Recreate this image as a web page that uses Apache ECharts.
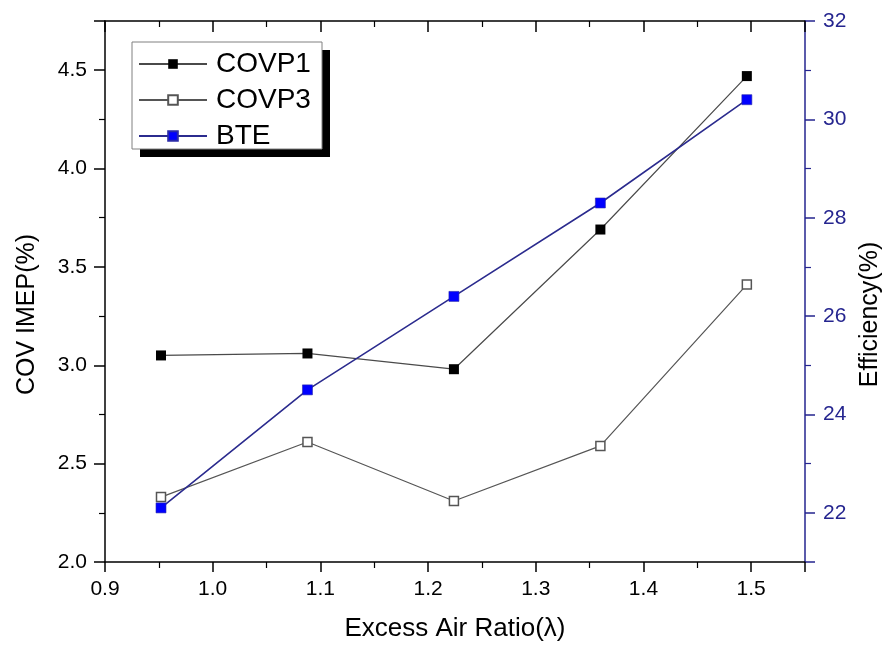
<!DOCTYPE html>
<html>

<head>
    <meta charset="UTF-8">
    <title>COV IMEP / BTE vs Excess Air Ratio</title>
    <style>
        html, body {
            margin: 0;
            padding: 0;
            background: #fff;
        }
        #main {
            width: 890px;
            height: 647px;
        }
    </style>
    <script src="https://cdn.jsdelivr.net/npm/echarts@6.0.0/dist/echarts.min.js"></script>
</head>

<body>
    <div id="main"></div>
    <script type="text/javascript">
        // 数据
        var lambda = [0.952, 1.088, 1.224, 1.360, 1.496];
        var covp1 = [3.05, 3.06, 2.98, 3.69, 4.47];
        var covp3 = [2.33, 2.61, 2.31, 2.59, 3.41];
        var bte = [22.1, 24.5, 26.4, 28.3, 30.4];
        var seriesNames = ['COVP1', 'COVP3', 'BTE'];

        var FONT = 'Liberation Sans';
        var NAVY = '#25258f';

        function pairs(xs, ys) {
            return xs.map(function (x, i) { return [x, ys[i]]; });
        }

        var myChart = echarts.init(document.getElementById('main'), null, { renderer: 'canvas' });

        var option = {
            backgroundColor: '#fff',
            animation: false,
            textStyle: { fontFamily: FONT },
            grid: {
                left: 105,
                right: 85,
                top: 21,
                bottom: 85,
                outerBoundsMode: 'none'
            },
            // 图例外框和阴影
            graphic: [{
                    type: 'rect',
                    z: 1,
                    shape: { x: 140, y: 50, width: 190, height: 107 },
                    style: { fill: '#000' }
                },
                {
                    type: 'rect',
                    z: 1,
                    shape: { x: 132, y: 42, width: 190, height: 107 },
                    style: { fill: '#fff', stroke: '#808080', lineWidth: 1 }
                }
            ],
            legend: {
                data: seriesNames,
                orient: 'vertical',
                left: 133,
                top: 45,
                itemWidth: 68,
                itemHeight: 12,
                itemGap: 8,
                textStyle: { fontFamily: FONT, fontSize: 28, color: '#000', padding: [0, 0, 0, 4] }
            },
            xAxis: [{
                    type: 'value',
                    position: 'bottom',
                    min: 0.9,
                    max: 1.55,
                    interval: 0.1,
                    name: 'Excess Air Ratio(λ)',
                    nameLocation: 'middle',
                    nameGap: 54,
                    nameTextStyle: { fontFamily: FONT, fontSize: 26, color: '#000' },
                    axisLine: { show: true, onZero: false, lineStyle: { color: '#000', width: 1.5 } },
                    axisTick: { show: true, inside: false, length: 10, lineStyle: { color: '#000', width: 1.5 } },
                    minorTick: { show: true, splitNumber: 2, length: 6, lineStyle: { color: '#000', width: 1.2 } },
                    axisLabel: {
                        show: true, margin: 17, fontFamily: FONT, fontSize: 21, color: '#000',
                        showMaxLabel: false,
                        formatter: function (v) { return v.toFixed(1); }
                    },
                    splitLine: { show: false }
                },
                {
                    type: 'value',
                    position: 'top',
                    min: 0.9,
                    max: 1.55,
                    interval: 0.1,
                    axisLine: { show: true, onZero: false, lineStyle: { color: '#000', width: 1.5 } },
                    axisTick: { show: true, inside: true, length: 11, lineStyle: { color: '#000', width: 1.5 } },
                    minorTick: { show: true, splitNumber: 2, length: 6, lineStyle: { color: '#000', width: 1.2 } },
                    axisLabel: { show: false },
                    splitLine: { show: false }
                }
            ],
            yAxis: [{
                    type: 'value',
                    position: 'left',
                    min: 2.0,
                    max: 4.75,
                    interval: 0.5,
                    name: 'COV IMEP(%)',
                    nameLocation: 'middle',
                    nameRotate: 90,
                    nameGap: 65,
                    nameTextStyle: { fontFamily: FONT, fontSize: 25, color: '#000', padding: [0, 46, 0, 0] },
                    axisLine: { show: true, onZero: false, lineStyle: { color: '#000', width: 1.5 } },
                    axisTick: { show: true, inside: false, length: 11, lineStyle: { color: '#000', width: 1.5 } },
                    minorTick: { show: true, splitNumber: 2, length: 6, lineStyle: { color: '#000', width: 1.2 } },
                    axisLabel: {
                        show: true, margin: 18, fontFamily: FONT, fontSize: 21, color: '#000',
                        showMaxLabel: false,
                        formatter: function (v) { return v.toFixed(1); }
                    },
                    splitLine: { show: false }
                },
                {
                    type: 'value',
                    position: 'right',
                    min: 21,
                    max: 32,
                    splitNumber: 5,
                    name: 'Efficiency(%)',
                    nameLocation: 'middle',
                    nameRotate: 90,
                    nameGap: 52,
                    nameTextStyle: { fontFamily: FONT, fontSize: 25, color: '#000', padding: [0, 46, 0, 0] },
                    axisLine: { show: true, onZero: false, lineStyle: { color: NAVY, width: 1.5 } },
                    axisTick: { show: true, inside: false, length: 10, lineStyle: { color: NAVY, width: 1.5 } },
                    minorTick: { show: true, splitNumber: 2, length: 6, lineStyle: { color: NAVY, width: 1.2 } },
                    axisLabel: {
                        show: true, margin: 18, fontFamily: FONT, fontSize: 21, color: NAVY,
                        showMinLabel: false
                    },
                    splitLine: { show: false }
                }
            ],
            series: [{
                    name: 'COVP1',
                    type: 'line',
                    xAxisIndex: 0,
                    yAxisIndex: 0,
                    data: pairs(lambda, covp1),
                    symbol: 'rect',
                    symbolSize: 10,
                    lineStyle: { color: '#4a4a4a', width: 1.2 },
                    itemStyle: { color: '#000', borderColor: '#000', borderWidth: 0 },
                    z: 3
                },
                {
                    name: 'COVP3',
                    type: 'line',
                    xAxisIndex: 0,
                    yAxisIndex: 0,
                    data: pairs(lambda, covp3),
                    symbol: 'rect',
                    symbolSize: 9,
                    lineStyle: { color: '#555', width: 1.2 },
                    itemStyle: { color: '#fff', borderColor: '#555', borderWidth: 1.5 },
                    z: 3
                },
                {
                    name: 'BTE',
                    type: 'line',
                    xAxisIndex: 0,
                    yAxisIndex: 1,
                    data: pairs(lambda, bte),
                    symbol: 'rect',
                    symbolSize: 10,
                    lineStyle: { color: '#2b2b8e', width: 1.6 },
                    itemStyle: { color: '#0000ff', borderColor: '#2a2aa8', borderWidth: 0.6 },
                    z: 4
                }
            ]
        };

        myChart.setOption(option);
    </script>
</body>

</html>
